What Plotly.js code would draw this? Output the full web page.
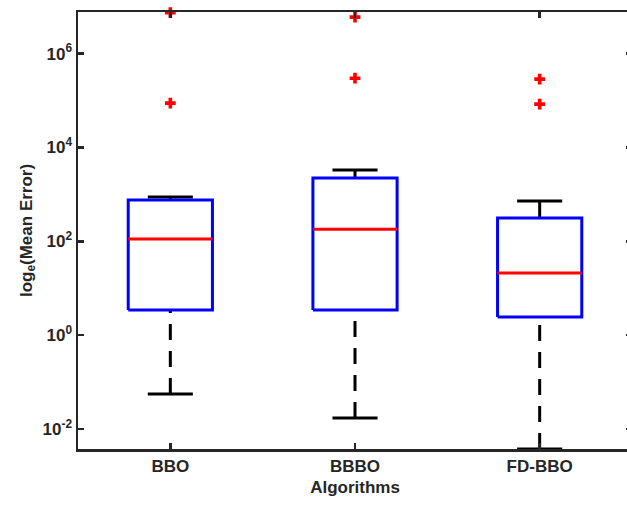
<!DOCTYPE html>
<html>
<head>
<meta charset="utf-8">
<script src="https://cdn.plot.ly/plotly-3.0.1.min.js"></script>
<style>
html,body{margin:0;padding:0;overflow:hidden;background:#fff;}
#chart{width:632px;height:505px;}
</style>
</head>
<body>
<div id="chart"></div>
<script>
// ---- data ----
const categories = ['BBO', 'BBBO', 'FD-BBO'];
const upperWhisker = [877, 3296, 721];
const q3 = [757, 2228, 313];
const medians = [112, 182, 21.1];
const q1 = [3.44, 3.44, 2.44];
const lowerWhisker = [0.0557, 0.0172, 0.00375];
const outliers = [[7.5e6, 8.81e4], [6.0e6, 3.0e5], [2.86e5, 8.4e4]];
const yTickVals = [0.01, 1, 100, 1e4, 1e6];
const yTickText = ['10<sup>-2</sup>', '10<sup>0</sup>', '10<sup>2</sup>', '10<sup>4</sup>', '10<sup>6</sup>'];

// ---- styling ----
const boxHalf = 0.228;
const capHalf = 0.122;
const lw = 3;
const axisColor = '#262626';
const font = {family: '"Liberation Sans", Arial, Helvetica, sans-serif', size: 17, color: axisColor, weight: 'bold'};

const traces = [];
categories.forEach((c, k) => {
  const i = k + 1;
  // whiskers (dashed, starting at caps)
  traces.push({type: 'scatter', mode: 'lines', x: [i, i], y: [upperWhisker[k], q3[k]],
    line: {color: '#000', width: lw, dash: '16px,11px'}, cliponaxis: false, hoverinfo: 'skip'});
  traces.push({type: 'scatter', mode: 'lines', x: [i, i], y: [lowerWhisker[k], q1[k]],
    line: {color: '#000', width: lw, dash: '16px,11px'}, cliponaxis: false, hoverinfo: 'skip'});
  // caps
  traces.push({type: 'scatter', mode: 'lines', x: [i - capHalf, i + capHalf], y: [upperWhisker[k], upperWhisker[k]],
    line: {color: '#000', width: lw}, cliponaxis: false, hoverinfo: 'skip'});
  traces.push({type: 'scatter', mode: 'lines', x: [i - capHalf, i + capHalf], y: [lowerWhisker[k], lowerWhisker[k]],
    line: {color: '#000', width: lw}, cliponaxis: false, hoverinfo: 'skip'});
  // box
  traces.push({type: 'scatter', mode: 'lines',
    x: [i - boxHalf, i + boxHalf, i + boxHalf, i - boxHalf, i - boxHalf],
    y: [q1[k], q1[k], q3[k], q3[k], q1[k]],
    line: {color: '#0000ff', width: lw}, cliponaxis: false, hoverinfo: 'skip'});
  // median
  traces.push({type: 'scatter', mode: 'lines', x: [i - boxHalf, i + boxHalf], y: [medians[k], medians[k]],
    line: {color: '#ff0000', width: lw}, cliponaxis: false, hoverinfo: 'skip'});
  // outliers
  traces.push({type: 'scatter', mode: 'markers', x: outliers[k].map(() => i), y: outliers[k],
    marker: {symbol: 'cross', size: 9, color: '#ff0000', line: {width: 0}}, cliponaxis: false, hoverinfo: 'skip'});
});

const layout = {
  width: 632, height: 505,
  margin: {l: 78, r: 0, t: 12, b: 56},
  paper_bgcolor: '#fff', plot_bgcolor: '#fff',
  showlegend: false,
  font: font,
  xaxis: {
    range: [0.5, 3.5], tickvals: [1, 2, 3], ticktext: categories,
    showgrid: false, zeroline: false, showline: true, mirror: 'ticks',
    linecolor: axisColor, linewidth: 2.5, ticks: 'inside', ticklen: 6, tickwidth: 2.5, tickcolor: axisColor,
    tickfont: font,
    title: {text: 'Algorithms', font: font, standoff: 6}
  },
  yaxis: {
    type: 'log', range: [-2.426, 6.888], tickvals: yTickVals, ticktext: yTickText,
    showgrid: false, zeroline: false, showline: true, mirror: 'ticks',
    linecolor: axisColor, linewidth: 2.5, ticks: 'inside', ticklen: 6, tickwidth: 2.5, tickcolor: axisColor,
    tickfont: font,
    title: {text: 'log<sub>e</sub>(Mean Error)', font: font, standoff: 6}
  }
};

Plotly.newPlot('chart', traces, layout, {staticPlot: true, displayModeBar: false});
</script>
</body>
</html>
